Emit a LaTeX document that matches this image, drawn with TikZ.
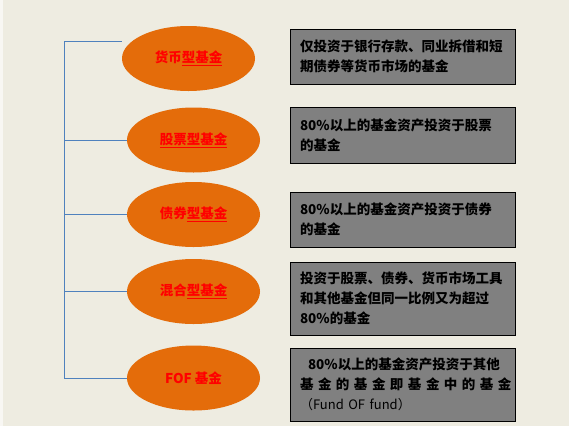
\documentclass[tikz,border=0pt]{standalone}
\usepackage{fontspec}
\newfontfamily\cjk{Noto Sans CJK SC}
\usetikzlibrary{shapes.geometric}

\definecolor{bgtan}{HTML}{EEECE1}
\definecolor{fundorange}{HTML}{E46C0A}
\definecolor{linkblue}{HTML}{4F81BD}
\definecolor{descgray}{HTML}{808080}

\begin{document}
\begin{tikzpicture}[x=1pt,y=-1pt,
    fund/.style={ellipse,fill=fundorange,minimum width=133pt,minimum height=65pt,
        inner sep=0pt,text=red,font={\cjk\bfseries\fontsize{13.5}{16}\selectfont}},
    desc/.style={draw=black,line width=0.8pt,fill=descgray,text width=205pt,
        inner xsep=10pt,align=left,font={\cjk\bfseries\fontsize{13.5}{20}\selectfont}},
    branch/.style={linkblue,line width=0.8pt}]
    % Background
    \useasboundingbox (0,0) rectangle (569,426);
    \fill[bgtan] (0,0) rectangle (569,426);
    \fill[white!60!bgtan] (0,0) rectangle (3,426);

    % Fund types
    \node[fund] (m1) at (188.5,58.5) {货币\underline{型基金}};
    \node[fund] (m2) at (193.5,140) {\underline{股票型基金}};
    \node[fund] (m3) at (193.5,214.5) {债券\underline{型基金}};
    \node[fund] (m4) at (193.5,291.5) {混合\underline{型基金}};
    \node[fund] (m5) at (193.5,378) {FOF 基金};

    % Descriptions
    \node[desc,minimum height=55pt] (d1) at (402.5,56.5)
        {仅投资于银行存款、同业拆借和短\\期债券等货币市场的基金};
    \node[desc,minimum height=56pt] (d2) at (402.5,135)
        {80\%以上的基金资产投资于股票\\的基金};
    \node[desc,minimum height=55pt] (d3) at (402.5,219.5)
        {80\%以上的基金资产投资于债券\\的基金};
    \node[desc,minimum height=73pt] (d4) at (402.5,298.5)
        {投资于股票、债券、货币市场工具\\和其他基金但同一比例又为超过\\80\%的基金};
    \node[desc,minimum height=73pt] (d5) at (402.5,384.5)
        {\hspace*{8pt}80\%以上的基金资产投资于其他\\
         \makebox[203pt][s]{基 金 的 基 金 即 基 金 中 的 基 金}\\
         {\mdseries\fontsize{13}{20}\selectfont （Fund OF fund）}};

    % Bracket
    \coordinate (top) at (64,41);
    \draw[branch] (top) -- (m5.west -| top);
    \draw[branch] (top) -- (top -| m1.west);
    \foreach \i in {2,...,5}
        \draw[branch] (m\i.west -| top) -- (m\i.west);
\end{tikzpicture}
\end{document}
